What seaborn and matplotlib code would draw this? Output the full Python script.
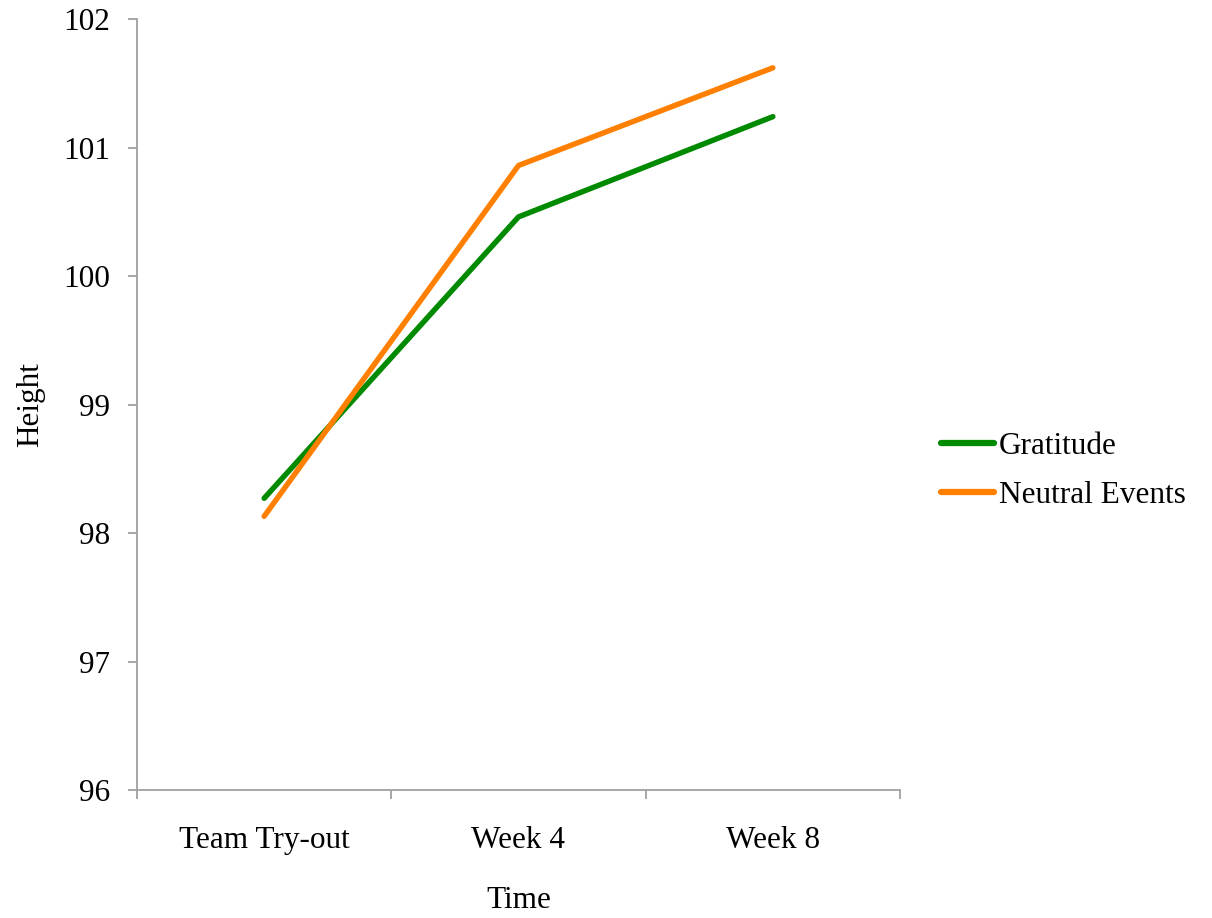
import matplotlib
matplotlib.use("Agg")
import matplotlib.pyplot as plt
import seaborn as sns
import pandas as pd

categories = ["Team Try-out", "Week 4", "Week 8"]
gratitude = [98.27, 100.46, 101.24]
neutral = [98.13, 100.86, 101.62]
series_names = ["Gratitude", "Neutral Events"]
y_ticks = [96, 97, 98, 99, 100, 101, 102]

df = pd.DataFrame({
    "Time": categories * 2,
    "Height": gratitude + neutral,
    "Group": [series_names[0]] * 3 + [series_names[1]] * 3,
})
df["x"] = [0, 1, 2] * 2

sns.set_theme(style="white")
plt.rcParams["font.family"] = ["Liberation Serif", "DejaVu Serif"]
plt.rcParams["text.color"] = "black"
plt.rcParams["axes.labelcolor"] = "black"
plt.rcParams["xtick.color"] = "black"
plt.rcParams["ytick.color"] = "black"

FS = 22.5

fig = plt.figure(figsize=(12.12, 9.18), dpi=100)
ax = fig.add_axes([0.113, 0.1394, 0.6296, 0.8399])

sns.lineplot(data=df, x="x", y="Height", hue="Group",
             palette=["#008a00", "#ff8000"], linewidth=3.9, ax=ax,
             legend=True)

ax.set_xlim(-0.5, 2.5)
ax.set_ylim(96, 102)
ax.set_yticks(y_ticks)
ax.set_yticklabels([str(v) for v in y_ticks], fontsize=FS)
ax.set_xticks([0, 1, 2])
ax.set_xticklabels(categories, fontsize=FS)
ax.set_xticks([-0.5, 0.5, 1.5, 2.5], minor=True)
ax.tick_params(axis="x", which="major", length=0, pad=26, labelcolor="black")
ax.tick_params(axis="x", which="minor", length=6.5, width=1.3, color="#a0a0a0", direction="out", bottom=True)
ax.tick_params(axis="y", which="major", length=6.5, width=1.3, color="#a0a0a0", direction="out", left=True, pad=13, labelcolor="black")

for s in ["top", "right"]:
    ax.spines[s].set_visible(False)
for s in ["left", "bottom"]:
    ax.spines[s].set_color("#a0a0a0")
    ax.spines[s].set_linewidth(1.3)

ax.set_xlabel("Time", fontsize=FS, labelpad=22, color="black")
ax.set_ylabel("Height", fontsize=FS, labelpad=13, color="black")

leg = ax.legend(loc="center left", bbox_to_anchor=(1.017, 0.414), frameon=False,
                fontsize=FS, handlelength=1.7, handletextpad=0.15, labelspacing=0.65)
for h in leg.get_lines():
    h.set_linewidth(4.5)
for t in leg.get_texts():
    t.set_color("black")

fig.savefig("out.png", dpi=100, facecolor="white")
